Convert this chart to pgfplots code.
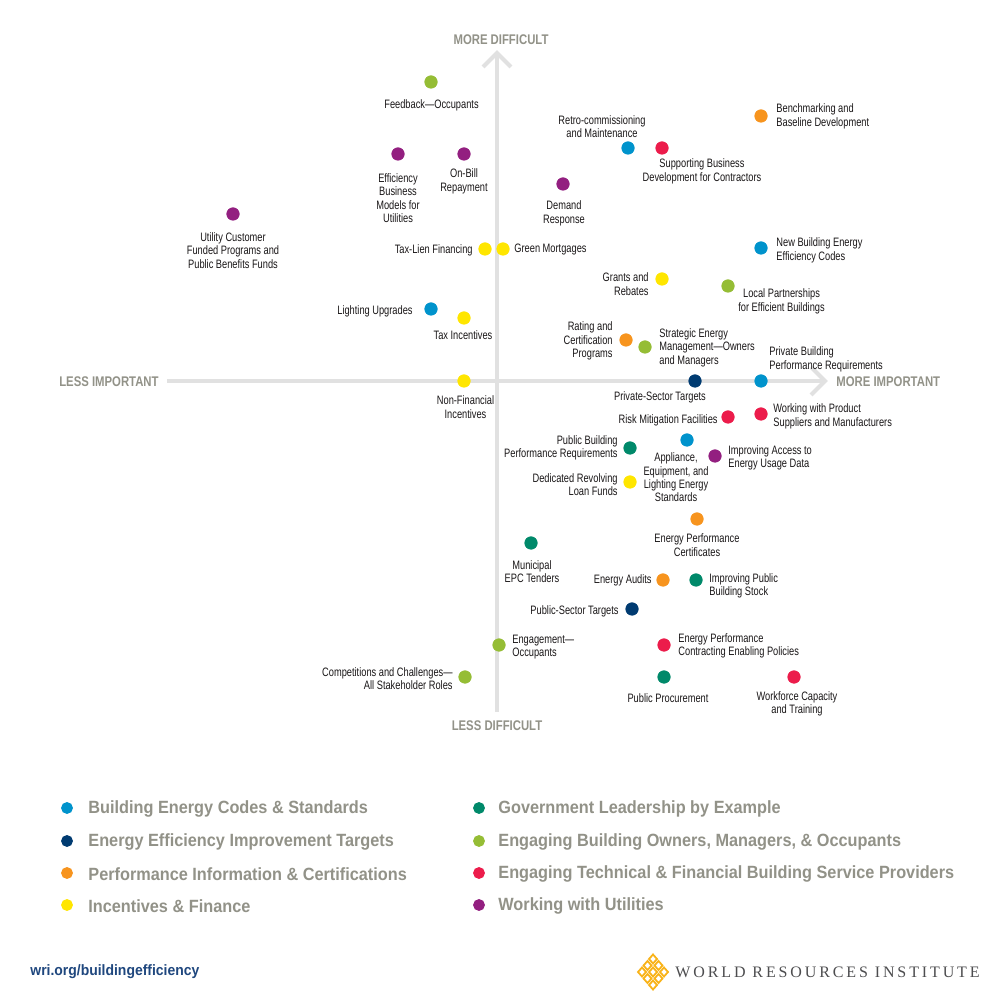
\documentclass[border=0pt]{standalone}
\usepackage{pgfplots}
\pgfplotsset{compat=1.18}
\usepackage{fontspec}
\setmainfont{Liberation Sans}[FakeStretch=0.76]
\newfontfamily\legfont{Liberation Sans}[FakeStretch=0.92]
\newfontfamily\axfont{Liberation Sans}[FakeStretch=0.81]
\newfontfamily\urlfont{Liberation Sans}[FakeStretch=0.93]
\newfontfamily\wrifont{Liberation Serif}[LetterSpace=18]

\definecolor{cBlue}{HTML}{0093CC}
\definecolor{cNavy}{HTML}{003B71}
\definecolor{cOrange}{HTML}{F7941E}
\definecolor{cYellow}{HTML}{FFE600}
\definecolor{cTeal}{HTML}{00896A}
\definecolor{cLime}{HTML}{95BD35}
\definecolor{cRed}{HTML}{EC1C4B}
\definecolor{cPurple}{HTML}{931F80}
\definecolor{cGray}{HTML}{929288}
\definecolor{cLine}{HTML}{E1E1E1}
\definecolor{cText}{HTML}{1A1718}
\definecolor{cUrl}{HTML}{1F477E}
\definecolor{cWri}{HTML}{4D4D4F}
\definecolor{cLogo}{HTML}{F9B319}

\newcommand\labfont{\fontsize{6.1}{6.7}\selectfont}
\tikzset{lab/.style={inner sep=0pt,font=\labfont,text=cText,yshift=-0.5pt}}
\newcommand\labc[2]{\node[lab,anchor=center,align=center] at (axis cs:#1) {#2};}
\newcommand\labl[2]{\node[lab,anchor=west,align=left] at (axis cs:#1) {#2};}
\newcommand\labr[2]{\node[lab,anchor=east,align=right] at (axis cs:#1) {#2};}
\newcommand\legtext[2]{\node[anchor=west,inner sep=0pt,yshift=-0.6pt,font={\legfont\bfseries\fontsize{8.85}{10}\selectfont},text=cGray] at (axis cs:#1) {#2};}

\begin{document}
\begin{tikzpicture}
\begin{axis}[width=500pt,height=497.5pt,scale only axis,
  xmin=0,xmax=1000,ymin=-995,ymax=0,hide axis,clip=false]
\fill[white] (axis cs:0,0) rectangle (axis cs:1000,-995);

% quadrant cross
\addplot[cLine,line width=2pt] coordinates {(497,-53) (497,-712)};
\addplot[cLine,line width=2pt] coordinates {(167,-381) (825,-381)};
\addplot[cLine,line width=2pt] coordinates {(483,-67) (497,-53) (511,-67)};
\addplot[cLine,line width=2pt] coordinates {(811,-367) (825,-381) (811,-395)};

% axis captions
\node[inner sep=0pt,font={\axfont\bfseries\fontsize{7}{8}\selectfont},text=cGray] at (axis cs:501,-39.5) {MORE DIFFICULT};
\node[inner sep=0pt,font={\axfont\bfseries\fontsize{7}{8}\selectfont},text=cGray] at (axis cs:497,-725.5) {LESS DIFFICULT};
\node[anchor=east,inner sep=0pt,font={\axfont\bfseries\fontsize{7}{8}\selectfont},text=cGray] at (axis cs:159,-381.5) {LESS IMPORTANT};
\node[anchor=west,inner sep=0pt,font={\axfont\bfseries\fontsize{7}{8}\selectfont},text=cGray] at (axis cs:836,-381.5) {MORE IMPORTANT};

% Building Energy Codes & Standards
\addplot[only marks,mark=*,mark size=3.1pt,color=cBlue] coordinates {
 (628,-148) (761,-248) (431,-309) (761,-381) (687,-440)};
% Energy Efficiency Improvement Targets
\addplot[only marks,mark=*,mark size=3.1pt,color=cNavy] coordinates {
 (695,-381) (632,-609)};
% Performance Information & Certifications
\addplot[only marks,mark=*,mark size=3.1pt,color=cOrange] coordinates {
 (761,-116) (626,-340) (697,-519) (663,-580)};
% Incentives & Finance
\addplot[only marks,mark=*,mark size=3.1pt,color=cYellow] coordinates {
 (485,-249) (503,-249) (662,-279) (464,-318) (464,-381) (630,-482)};
% Government Leadership by Example
\addplot[only marks,mark=*,mark size=3.1pt,color=cTeal] coordinates {
 (630,-448) (531,-543) (696,-580) (664,-677)};
% Engaging Building Owners, Managers, & Occupants
\addplot[only marks,mark=*,mark size=3.1pt,color=cLime] coordinates {
 (431,-82) (728,-286) (645,-347) (499,-645) (465,-677)};
% Engaging Technical & Financial Building Service Providers
\addplot[only marks,mark=*,mark size=3.1pt,color=cRed] coordinates {
 (662,-148) (761,-414) (728,-417) (664,-645) (794,-677)};
% Working with Utilities
\addplot[only marks,mark=*,mark size=3.1pt,color=cPurple] coordinates {
 (464,-154) (398,-154) (563,-184) (233,-214) (715,-456)};

% point labels
\labc{431.5,-104}{Feedback---Occupants}
\labc{398,-197}{Efficiency\\Business\\Models for\\Utilities}
\labc{464,-180.5}{On-Bill\\Repayment}
\labc{233,-249.5}{Utility Customer\\Funded Programs and\\Public Benefits Funds}
\labr{473,-249}{Tax-Lien Financing}
\labl{514,-249}{Green Mortgages}
\labc{602,-125.5}{Retro-commissioning\\and Maintenance}
\labc{702,-170.5}{Supporting Business\\Development for Contractors}
\labl{776,-115.5}{Benchmarking and\\Baseline Development}
\labc{564,-212.5}{Demand\\Response}
\labl{776,-249.5}{New Building Energy\\Efficiency Codes}
\labr{649,-283}{Grants and\\Rebates}
\labc{781.5,-300.5}{Local Partnerships\\for Efficient Buildings}
\labr{413,-310}{Lighting Upgrades}
\labc{463,-334.5}{Tax Incentives}
\labr{613,-340}{Rating and\\Certification\\Programs}
\labl{659,-346.5}{Strategic Energy\\Management---Owners\\and Managers}
\labl{769,-358.5}{Private Building\\Performance Requirements}
\labc{465.5,-406}{Non-Financial\\Incentives}
\labc{660,-396}{Private-Sector Targets}
\labr{718,-419}{Risk Mitigation Facilities}
\labl{773,-415.5}{Working with Product\\Suppliers and Manufacturers}
\labr{618,-447}{Public Building\\Performance Requirements}
\labc{676,-476.5}{Appliance,\\Equipment, and\\Lighting Energy\\Standards}
\labl{728,-457}{Improving Access to\\Energy Usage Data}
\labr{618,-483.5}{Dedicated Revolving\\Loan Funds}
\labc{697,-544}{Energy Performance\\Certificates}
\labc{532,-570.5}{Municipal\\EPC Tenders}
\labr{652,-579}{Energy Audits}
\labl{709,-585}{Improving Public\\Building Stock}
\labr{619,-610}{Public-Sector Targets}
\labl{512,-646}{Engagement---\\Occupants}
\labl{678,-645}{Energy Performance\\Contracting Enabling Policies}
\labr{453,-677.5}{Competitions and Challenges---\\All Stakeholder Roles}
\labc{668,-697}{Public Procurement}
\labc{797,-703}{Workforce Capacity\\and Training}

% legend
\addplot[only marks,mark=*,mark size=2.75pt,color=cBlue] coordinates {(67,-808)};
\addplot[only marks,mark=*,mark size=2.75pt,color=cNavy] coordinates {(67,-841)};
\addplot[only marks,mark=*,mark size=2.75pt,color=cOrange] coordinates {(67,-873)};
\addplot[only marks,mark=*,mark size=2.75pt,color=cYellow] coordinates {(67,-905)};
\addplot[only marks,mark=*,mark size=2.75pt,color=cTeal] coordinates {(479,-808)};
\addplot[only marks,mark=*,mark size=2.75pt,color=cLime] coordinates {(479,-841)};
\addplot[only marks,mark=*,mark size=2.75pt,color=cRed] coordinates {(479,-873)};
\addplot[only marks,mark=*,mark size=2.75pt,color=cPurple] coordinates {(479,-905)};
\legtext{88,-808}{Building Energy Codes \& Standards}
\legtext{88,-841}{Energy Efficiency Improvement Targets}
\legtext{88,-873}{Performance Information \& Certifications}
\legtext{88,-905}{Incentives \& Finance}
\legtext{498,-808}{Government Leadership by Example}
\legtext{498,-841}{Engaging Building Owners, Managers, \& Occupants}
\legtext{498,-873}{Engaging Technical \& Financial Building Service Providers}
\legtext{498,-905}{Working with Utilities}

% footer
\node[anchor=west,inner sep=0pt,font={\urlfont\bfseries\fontsize{7.5}{9}\selectfont},text=cUrl] at (axis cs:30,-972) {wri.org/buildingefficiency};
\node[anchor=west,inner sep=0pt,font={\wrifont\fontsize{8}{9}\selectfont},text=cWri] at (axis cs:675,-972) {WORLD RESOURCES INSTITUTE};
\end{axis}
% logo (pixel coordinates, y downwards)
\begin{scope}[shift={(0,497.5pt)},x=0.5pt,y=-0.5pt]
\foreach \i/\j in {0/0,1/1,1/-1,-1/1,-1/-1,2/0,-2/0,0/2,0/-2}{
  \draw[cLogo,line width=0.9pt] (653+5.5*\i,972+6.5*\j+4.5) -- (653+5.5*\i+4,972+6.5*\j) -- (653+5.5*\i,972+6.5*\j-4.5) -- (653+5.5*\i-4,972+6.5*\j) -- cycle;
}
\end{scope}
\end{tikzpicture}
\end{document}
